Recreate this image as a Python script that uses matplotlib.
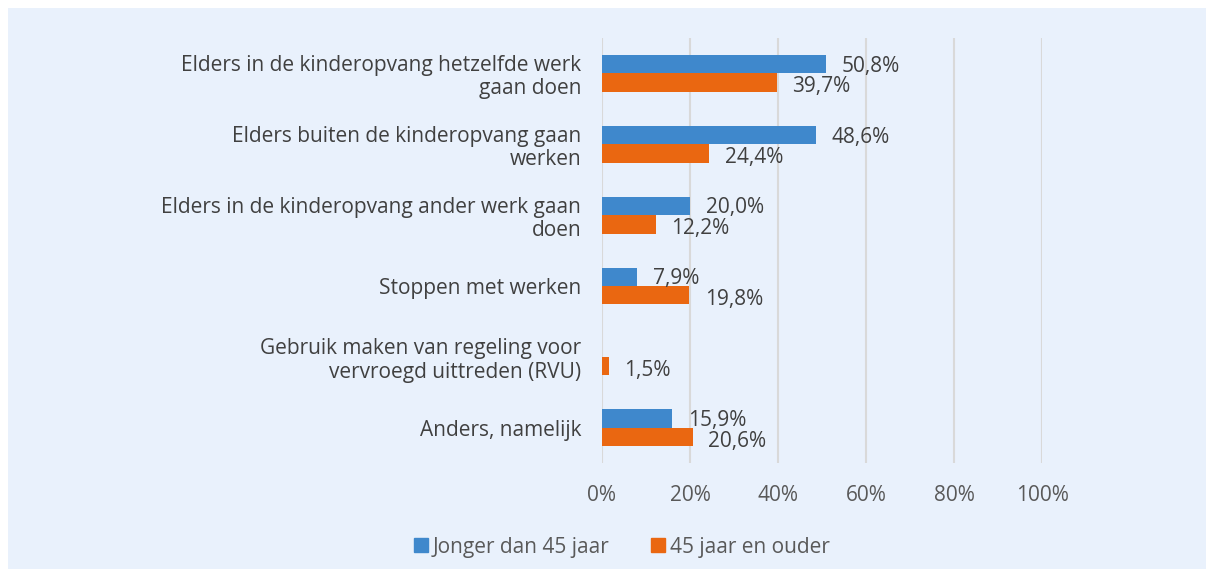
import matplotlib.pyplot as plt
import matplotlib.patches as mpatches
import numpy as np

plt.rcParams['font.family'] = ['Open Sans', 'DejaVu Sans']

# Data
categories = [
    'Elders in de kinderopvang hetzelfde werk\ngaan doen',
    'Elders buiten de kinderopvang gaan\nwerken',
    'Elders in de kinderopvang ander werk gaan\ndoen',
    'Stoppen met werken',
    'Gebruik maken van regeling voor\nvervroegd uittreden (RVU)',
    'Anders, namelijk',
]
jonger = [50.8, 48.6, 20.0, 7.9, None, 15.9]
ouder = [39.7, 24.4, 12.2, 19.8, 1.5, 20.6]
series_names = ['Jonger dan 45 jaar', '45 jaar en ouder']
xticks = [0, 20, 40, 60, 80, 100]

blue = '#3F88CC'
orange = '#EA6711'
bg = '#E9F1FC'
text_col = '#595959'

fig = plt.figure(figsize=(12.14, 5.77), dpi=100, facecolor='white')
fig.patches.append(mpatches.Rectangle((8 / 1214, 8 / 577), 1198 / 1214, 561 / 577,
                                      transform=fig.transFigure, facecolor=bg,
                                      edgecolor='none', zorder=-1))
ax = fig.add_axes([602 / 1214, (577 - 463) / 577, 440 / 1214, 425 / 577])
ax.set_facecolor(bg)

y = np.arange(len(categories))
h = 0.26

jv = [v if v is not None else 0 for v in jonger]
ax.barh(y - h / 2, jv, height=h, color=blue, zorder=3)
ax.barh(y + h / 2, ouder, height=h, color=orange, zorder=3)

for i, v in enumerate(jonger):
    if v is None:
        continue
    ax.text(v + 3.6, i - h / 2 + 0.03, f'{v:.1f}%'.replace('.', ','),
            va='center', ha='left', fontsize=15, color='#404040', zorder=4)
for i, v in enumerate(ouder):
    ax.text(v + 3.6, i + h / 2 + 0.06, f'{v:.1f}%'.replace('.', ','),
            va='center', ha='left', fontsize=15, color='#404040', zorder=4)

ax.set_xlim(0, 100)
ax.set_ylim(len(categories) - 0.5, -0.5)
ax.set_yticks(y)
ax.set_yticklabels(categories, fontsize=15, color='#404040', ha='right',
                   linespacing=1.15)
ax.set_xticks(xticks)
ax.set_xticklabels([f'{t}%' for t in xticks], fontsize=15, color=text_col)
ax.tick_params(axis='both', length=0)
ax.tick_params(axis='x', pad=16)
ax.tick_params(axis='y', pad=15)
ax.grid(axis='x', color='#D9D9D9', linewidth=1.5, zorder=0)
for s in ax.spines.values():
    s.set_visible(False)

handles = [mpatches.Patch(color=blue, label=series_names[0]),
           mpatches.Patch(color=orange, label=series_names[1])]
fig.legend(handles=handles, loc='center', bbox_to_anchor=(622 / 1214, 1 - 547 / 577),
           ncol=2, frameon=False, fontsize=15, handlelength=0.65, handleheight=0.65,
           handletextpad=0.25, columnspacing=2.0, labelcolor=text_col)

fig.savefig('out.png', dpi=100, facecolor='white')
